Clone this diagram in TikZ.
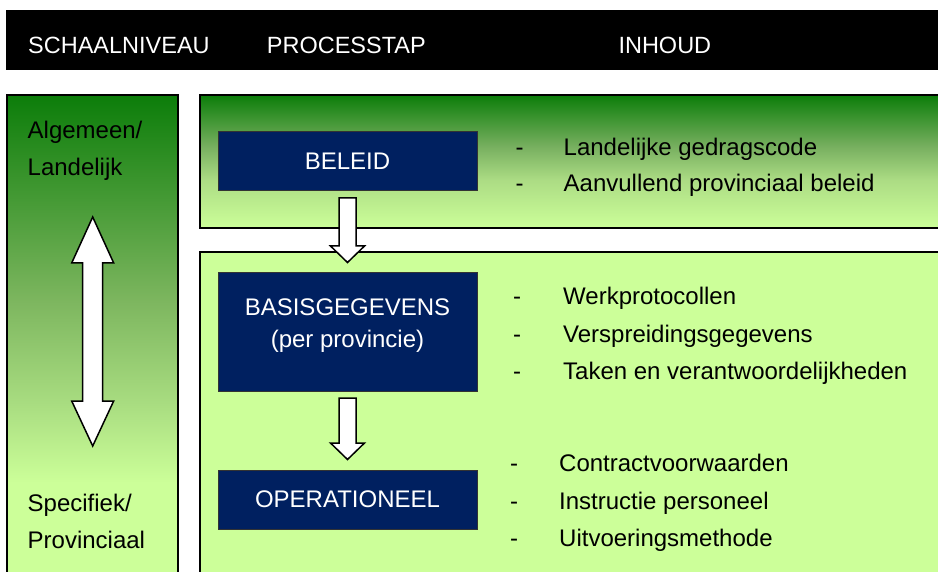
\documentclass[tikz,border=0pt]{standalone}
\usepackage{fontspec}
\setmainfont{Liberation Sans}
\usetikzlibrary{positioning,calc}

\definecolor{navybox}{RGB}{0,32,96}
\definecolor{darkgrn}{RGB}{12,125,10}
\definecolor{lightgrn}{RGB}{204,255,153}
\definecolor{scalemid}{RGB}{125,182,95}
\definecolor{scalelow}{RGB}{168,220,128}
\definecolor{policymid}{RGB}{120,176,96}
\definecolor{policylow}{RGB}{172,220,132}

% gradients of the left column and of the top panel
\pgfdeclareverticalshading{scalegrad}{100bp}{color(0bp)=(lightgrn); color(34.6bp)=(lightgrn);
  color(43bp)=(scalelow); color(53.5bp)=(scalemid); color(75bp)=(darkgrn); color(100bp)=(darkgrn)}
\pgfdeclareverticalshading{policygrad}{100bp}{color(0bp)=(lightgrn); color(25bp)=(lightgrn);
  color(43bp)=(policylow); color(55.5bp)=(policymid); color(75bp)=(darkgrn); color(100bp)=(darkgrn)}

% white block arrow from one step to the next
\newcommand{\flowarrow}[2]{%
  \draw[fatarrow] ($(#1.south)+(-8.5,6.5)$) -- ($(#2.north)+(-8.5,-26.5)$)
    -- ($(#2.north)+(-17,-26.5)$) -- ($(#2.north)+(0,-10)$)
    -- ($(#2.north)+(17,-26.5)$) -- ($(#2.north)+(8.5,-26.5)$)
    -- ($(#1.south)+(8.5,6.5)$) -- cycle;}

\begin{document}
\begin{tikzpicture}[
  x=1pt, y=-1pt,
  panel/.style={draw=black, line width=1.5pt},
  stepbox/.style={draw=black!80, line width=1pt, fill=navybox, text=white,
                  minimum width=259pt, align=center,
                  font=\fontsize{24}{32}\selectfont},
  fatarrow/.style={draw=black, line width=1.5pt, fill=white, line join=miter},
  headtext/.style={text=white, anchor=base west, inner sep=0pt,
                   font=\fontsize{23.5}{28}\selectfont},
  bodytext/.style={anchor=base west, inner sep=0pt,
                   font=\fontsize{24}{30}\selectfont}
]
\useasboundingbox (0,0) rectangle (938,572);
\clip (0,0) rectangle (938,572);

% Header bar
\fill[black] (6,10) rectangle (945,70);
\node[headtext] (hscale) at (28,53.3) {SCHAALNIVEAU};
\node[headtext] (hstep) at (266.7,53.3) {PROCESSTAP};
\node[headtext] (hcontent) at (618.3,53.3) {INHOUD};

% Panels
\draw[panel, shade, shading=scalegrad] (7,95) rectangle (178,575);
\draw[panel, shade, shading=policygrad] (200,95) rectangle (945,228);
\draw[panel, fill=lightgrn] (200,252) rectangle (945,580);

% Scale column
\node[bodytext] (general) at (27.5,138.3) {Algemeen/};
\node[bodytext] (national) at (27.5,175.7) {Landelijk};
\node[bodytext] (specific) at (27.5,511.7) {Specifiek/};
\node[bodytext] (regional) at (27.5,548.3) {Provinciaal};
\coordinate (scaletop) at (92.7,217);
\coordinate (scalebot) at (92.7,446);
\draw[fatarrow] (scaletop) -- ++(21,46) -- ++(-11,0) -- ($(scalebot)+(10,-45)$)
  -- ++(11,0) -- (scalebot) -- ++(-21,-45) -- ++(11,0)
  -- ($(scaletop)+(-10,46)$) -- ++(-11,0) -- cycle;

% Process steps
\node[stepbox, minimum height=59pt] (beleid) at (347.5,161.5) {BELEID};
\node[stepbox, minimum height=118pt, text depth=17pt, below=81pt of beleid] (basis)
  {BASISGEGEVENS\\(per provincie)};
\node[stepbox, minimum height=59pt, below=78pt of basis] (oper) {OPERATIONEEL};

\flowarrow{beleid}{basis}
\flowarrow{basis}{oper}

% Content: beleid
\node[bodytext] (bd1) at (515.5,155.5) {-};
\node[bodytext] (b1) at (563.5,155.5) {Landelijke gedragscode};
\node[bodytext] (bd2) at (515.5,191.5) {-};
\node[bodytext] (b2) at (563.5,191.5) {Aanvullend provinciaal beleid};

% Content: basisgegevens
\node[bodytext] (gd1) at (513,305) {-};
\node[bodytext] (g1) at (563,305) {Werkprotocollen};
\node[bodytext] (gd2) at (513,342) {-};
\node[bodytext] (g2) at (563,342) {Verspreidingsgegevens};
\node[bodytext] (gd3) at (513,380) {-};
\node[bodytext] (g3) at (563,380) {Taken en verantwoordelijkheden};

% Content: operationeel
\node[bodytext] (od1) at (510,471.7) {-};
\node[bodytext] (o1) at (559,471.7) {Contractvoorwaarden};
\node[bodytext] (od2) at (510,509.3) {-};
\node[bodytext] (o2) at (559,509.3) {Instructie personeel};
\node[bodytext] (od3) at (510,546.7) {-};
\node[bodytext] (o3) at (559,546.7) {Uitvoeringsmethode};

\end{tikzpicture}
\end{document}
